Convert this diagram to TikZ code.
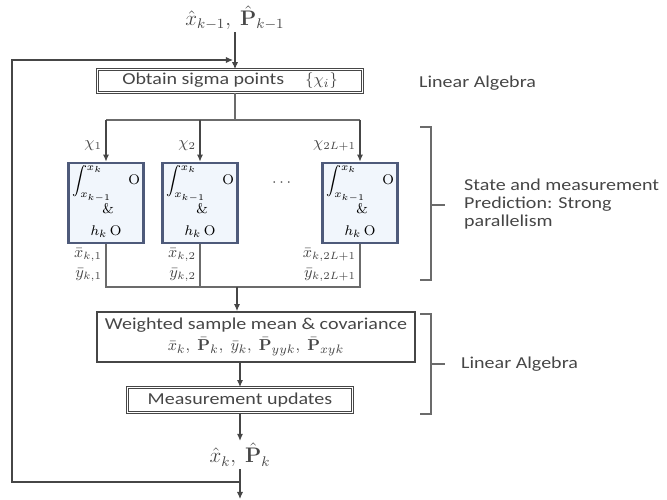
\documentclass[tikz,border=0pt]{standalone}
\usepackage{amsmath, amssymb}
\usepackage[no-math]{fontspec}
\setmainfont{Carlito}[FakeStretch=1.2]
\usepackage{tikz}
\usetikzlibrary{arrows.meta, positioning, calc}
\definecolor{inkgrey}{RGB}{70, 70, 70}
\definecolor{ukfblue}{RGB}{78, 90, 122}
\definecolor{ukffill}{RGB}{241, 246, 252}
\newcommand{\predcell}{%
  \begin{tabular}{@{}c@{}}
    $\displaystyle\int_{x_{k-1}}^{x_k}\quad\mathrm{O}$\\[3pt]
    $\;\&$\\[3pt]
    $h_k\,\mathrm{O}$
  \end{tabular}}

\begin{document}
\begin{tikzpicture}[x=0.02cm, y=-0.02cm,
  arr/.style={draw=inkgrey, line width=0.6pt, -{Latex[length=4pt, width=3.5pt]}},
  wire/.style={draw=inkgrey!80, line width=0.6pt},
  stagebox/.style={draw=inkgrey, line width=0.45pt, double=white, double distance=0.7pt, inner sep=2pt, align=center, text=inkgrey, font=\fontsize{9.5}{11}\selectfont},
  sumbox/.style={draw=inkgrey, line width=1pt, inner sep=2pt, align=center, text=inkgrey, font=\fontsize{9.5}{12}\selectfont},
  ukfbox/.style={draw=ukfblue, line width=1.6pt, fill=ukffill, minimum width=1.5cm, minimum height=1.6cm, inner sep=1pt, font=\footnotesize},
  sidetext/.style={anchor=west, align=left, text=inkgrey, font=\fontsize{9.5}{10.5}\selectfont},
  mlabel/.style={inner sep=1pt, text=inkgrey, font=\small}
]
  \useasboundingbox (0,0) rectangle (667,500);

  \node[mlabel, font=\large] (prior) at (235,18) {$\hat{x}_{k-1},\ \hat{\mathbf{P}}_{k-1}$};
  \node[stagebox, minimum width=5.3cm, minimum height=0.44cm] (sigma) at (230,81) {Obtain sigma points \quad $\left\{\chi_i\right\}$};
  \node[sidetext] (la1) at (413,83) {Linear Algebra};

  \node[ukfbox] (ukf1) at (106,203) {\predcell};
  \node[ukfbox] (ukf2) at (200,203) {\predcell};
  \node[ukfbox] (ukf3) at (360,203) {\predcell};
  \node[mlabel] (dots) at (283,183) {$\cdots$};

  \node[mlabel, anchor=east] (chi1) at (104,146) {$\chi_1$};
  \node[mlabel, anchor=east] (chi2) at (198,146) {$\chi_2$};
  \node[mlabel, anchor=east] (chi3) at (358,146) {$\chi_{2L+1}$};

  \node[mlabel, anchor=east, align=right] (out1) at (104,265) {$\bar{x}_{k,1}$\\$\bar{y}_{k,1}$};
  \node[mlabel, anchor=east, align=right] (out2) at (198,265) {$\bar{x}_{k,2}$\\$\bar{y}_{k,2}$};
  \node[mlabel, anchor=east, align=right] (out3) at (358,265) {$\bar{x}_{k,2L+1}$\\$\bar{y}_{k,2L+1}$};

  \node[sumbox, minimum width=6.36cm, minimum height=1cm] (wsum) at (256,337) {Weighted sample mean \& covariance\\
    $\bar{x}_k,\ \bar{\mathbf{P}}_k,\ \bar{y}_k,\ \bar{\mathbf{P}}_{yyk},\ \bar{\mathbf{P}}_{xyk}$};
  \node[stagebox, minimum width=4.5cm, minimum height=0.5cm] (meas) at (240,400) {Measurement updates};
  \node[mlabel, font=\large] (post) at (240,455) {$\hat{x}_k,\ \hat{\mathbf{P}}_k$};

  \node[sidetext] (par) at (458,204) {State and measurement\\Prediction: Strong\\parallelism};
  \node[sidetext] (la2) at (455,364) {Linear Algebra};

  \coordinate (split) at (235,120);
  \coordinate (fanL) at (106,120);
  \coordinate (fanR) at (360,120);
  \coordinate (join) at (237,287);
  \coordinate (joinL) at (106,287);
  \coordinate (joinR) at (360,287);
  \coordinate (fb) at (240,482);
  \coordinate (fbA) at (12,482);
  \coordinate (fbB) at (12,60);
  \coordinate (fbC) at (233,60);
  \coordinate (next) at (240,499);

  \draw[arr] (prior) -- (prior |- sigma.north);
  \draw[wire] (sigma.south -| split) -- (split);
  \draw[wire] (fanL) -- (fanR);
  \draw[arr] (fanL) -- (ukf1.north);
  \draw[arr] (ukf2.north |- split) -- (ukf2.north);
  \draw[arr] (fanR) -- (ukf3.north);

  \draw[wire] (ukf1.south) -- (joinL) -- (joinR) -- (ukf3.south);
  \draw[wire] (ukf2.south) -- (ukf2.south |- join);
  \draw[arr] (join) -- (join |- wsum.north);
  \draw[arr] (wsum.south -| meas) -- (meas.north);
  \draw[arr] (meas) -- (post);
  \draw[arr] (post) -- (next);
  \draw[arr] (fb) -- (fbA) -- (fbB) -- (fbC);

  \draw[wire, line width=0.9pt] (420,127) -- (431,127) -- (431,280) -- (420,280) (431,205) -- (445,205);
  \draw[wire, line width=0.9pt] (420,314) -- (431,314) -- (431,414) -- (420,414) (431,364) -- (445,364);
\end{tikzpicture}
\end{document}
